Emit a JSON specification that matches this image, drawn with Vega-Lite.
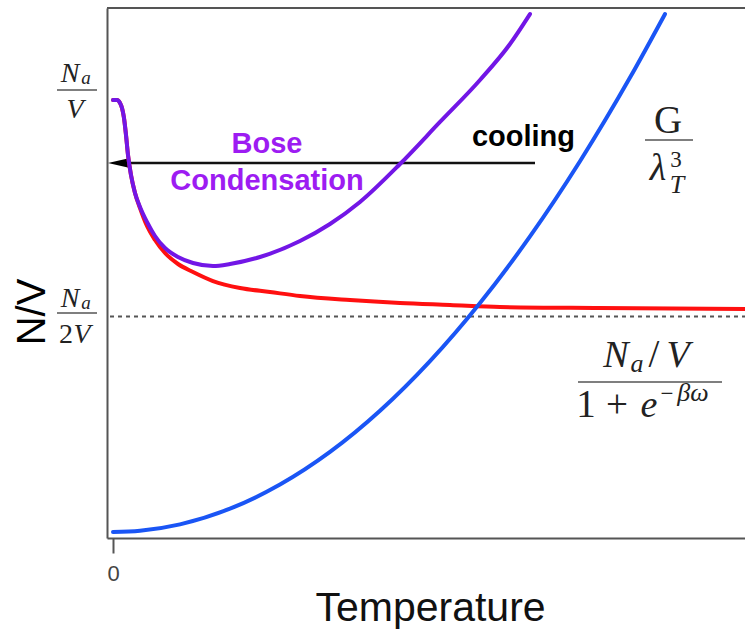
{
  "$schema": "https://vega.github.io/schema/vega-lite/v6.json",
  "width": 638,
  "height": 530,
  "autosize": {"type": "none"},
  "padding": {"left": 107, "top": 8, "right": 0, "bottom": 95},
  "background": "white",
  "config": {"view": {"stroke": null}, "axis": {"labelFontSize": 22}},
  "datasets": {
    "frame": [{"T": -0.06, "y": 1.1964}, {"T": 6.32, "y": 1.1964}],
    "half": [{"T": -0.03, "y": 0.5}, {"T": 6.32, "y": 0.5}],
    "arrow": [{"T": 0.17, "y": 0.8465}, {"T": 4.22, "y": 0.8465}],
    "arrowhead": [{"T": 0.06, "y": 0.8465}],
    "red": [
      {"T": 0.0, "y": 0.9887}, {"T": 0.04, "y": 0.9887}, {"T": 0.07, "y": 0.9819}, {"T": 0.09, "y": 0.9707},
      {"T": 0.11, "y": 0.9481}, {"T": 0.13, "y": 0.9097}, {"T": 0.15, "y": 0.8646}, {"T": 0.18, "y": 0.8194},
      {"T": 0.22, "y": 0.7788}, {"T": 0.27, "y": 0.7449}, {"T": 0.34, "y": 0.7043}, {"T": 0.42, "y": 0.6727},
      {"T": 0.52, "y": 0.6433}, {"T": 0.65, "y": 0.6185}, {"T": 0.8, "y": 0.6005}, {"T": 1.0, "y": 0.5801},
      {"T": 1.27, "y": 0.5643}, {"T": 1.57, "y": 0.5553}, {"T": 1.87, "y": 0.5463}, {"T": 2.37, "y": 0.5372},
      {"T": 2.87, "y": 0.5305}, {"T": 3.37, "y": 0.526}, {"T": 3.87, "y": 0.5214}, {"T": 4.87, "y": 0.5192},
      {"T": 6.32, "y": 0.5169}
    ],
    "purple": [
      {"T": 0.0, "y": 0.9887}, {"T": 0.04, "y": 0.9887}, {"T": 0.07, "y": 0.9819}, {"T": 0.09, "y": 0.9707},
      {"T": 0.11, "y": 0.9481}, {"T": 0.13, "y": 0.9097}, {"T": 0.15, "y": 0.8646}, {"T": 0.18, "y": 0.8194},
      {"T": 0.22, "y": 0.7788}, {"T": 0.27, "y": 0.7472}, {"T": 0.34, "y": 0.7133}, {"T": 0.42, "y": 0.6817},
      {"T": 0.52, "y": 0.6546}, {"T": 0.65, "y": 0.6343}, {"T": 0.8, "y": 0.6208}, {"T": 1.0, "y": 0.614},
      {"T": 1.17, "y": 0.6185}, {"T": 1.47, "y": 0.6343}, {"T": 1.87, "y": 0.6704}, {"T": 2.17, "y": 0.7088},
      {"T": 2.47, "y": 0.7585}, {"T": 2.87, "y": 0.8442}, {"T": 3.27, "y": 0.9391}, {"T": 3.67, "y": 1.0339},
      {"T": 3.97, "y": 1.1151}, {"T": 4.17, "y": 1.1828}
    ],
    "blue": [
      {"T": 0.0, "y": 0.0135}, {"T": 0.27, "y": 0.0163}, {"T": 0.67, "y": 0.0308}, {"T": 1.17, "y": 0.0661},
      {"T": 1.67, "y": 0.1206}, {"T": 2.17, "y": 0.1942}, {"T": 2.67, "y": 0.2871}, {"T": 3.17, "y": 0.3992},
      {"T": 3.67, "y": 0.5304}, {"T": 4.17, "y": 0.6808}, {"T": 4.67, "y": 0.8505}, {"T": 5.17, "y": 1.0393},
      {"T": 5.52, "y": 1.1828}
    ],
    "bars": [
      {"T": -0.56, "T2": -0.16, "y": 1.0113},
      {"T": -0.56, "T2": -0.16, "y": 0.5079},
      {"T": 5.32, "T2": 5.8, "y": 0.8984},
      {"T": 4.65, "T2": 6.09, "y": 0.3521}
    ],
    "serifItalicMid": [
      {"label": "N", "T": -0.43, "y": 1.0293},
      {"label": "V", "T": -0.38, "y": 0.9481},
      {"label": "N", "T": -0.43, "y": 0.5214},
      {"label": "V", "T": -0.31, "y": 0.4402}
    ],
    "serifUprightMid": [
      {"label": "2", "T": -0.47, "y": 0.4402}
    ],
    "serifItalicSmall": [
      {"label": "a", "T": -0.27, "y": 1.0248},
      {"label": "a", "T": -0.27, "y": 0.5169}
    ],
    "serifUprightBig": [
      {"label": "G", "T": 5.55, "y": 0.9142},
      {"label": "1", "T": 4.73, "y": 0.2731},
      {"label": "+", "T": 5.04, "y": 0.2731},
      {"label": "/", "T": 5.41, "y": 0.386}
    ],
    "serifItalicBig": [
      {"label": "λ", "T": 5.45, "y": 0.8081},
      {"label": "N", "T": 5.03, "y": 0.386},
      {"label": "V", "T": 5.65, "y": 0.386},
      {"label": "e", "T": 5.36, "y": 0.2731}
    ],
    "serifUprightScript": [
      {"label": "3", "T": 5.63, "y": 0.8375},
      {"label": "−", "T": 5.54, "y": 0.3093}
    ],
    "serifItalicScript": [
      {"label": "T", "T": 5.64, "y": 0.7788},
      {"label": "a", "T": 5.24, "y": 0.3747},
      {"label": "βω", "T": 5.8, "y": 0.3093}
    ],
    "bose": [
      {"label": "Bose", "T": 1.54, "y": 0.8691},
      {"label": "Condensation", "T": 1.54, "y": 0.7856}
    ],
    "cooling": [{"label": "cooling", "T": 4.62, "y": 0.8849}],
    "ytitle": [{"label": "N/V", "T": -0.8, "y": 0.5102}]
  },
  "encoding": {
    "x": {
      "field": "T", "type": "quantitative",
      "scale": {"domain": [-0.06, 6.32], "nice": false, "zero": false},
      "axis": {
        "values": [0], "grid": false, "title": "Temperature",
        "titleFont": "Liberation Sans", "titleFontSize": 41, "titleFontWeight": "normal", "titleColor": "#111",
        "titleX": 323, "titleY": 82, "titleBaseline": "alphabetic", "titleAlign": "center",
        "labelFont": "Liberation Sans", "labelFontSize": 22, "labelColor": "#444", "labelPadding": 10,
        "domainColor": "#555", "domainWidth": 2, "tickColor": "#555", "tickWidth": 2, "tickSize": 15
      }
    },
    "y": {
      "field": "y", "type": "quantitative",
      "scale": {"domain": [0, 1.1964], "nice": false, "zero": false},
      "axis": {"values": [], "grid": false, "title": null, "labels": false, "ticks": false,
               "domainColor": "#555", "domainWidth": 2}
    }
  },
  "layer": [
    {"data": {"name": "frame"}, "mark": {"type": "line", "color": "#555", "strokeWidth": 2}},
    {"data": {"name": "half"}, "mark": {"type": "line", "color": "#555", "strokeWidth": 2, "strokeDash": [4, 4]}},
    {"data": {"name": "arrow"}, "mark": {"type": "line", "color": "#111", "strokeWidth": 2.5}},
    {"data": {"name": "arrowhead"}, "mark": {"type": "point", "shape": "M -1 0 L 1 -0.45 L 1 0.45 Z", "size": 484, "filled": true, "color": "#000", "opacity": 1}},
    {"data": {"name": "red"}, "mark": {"type": "line", "color": "#ff1010", "strokeWidth": 4, "interpolate": "monotone", "strokeCap": "round"}},
    {"data": {"name": "purple"}, "mark": {"type": "line", "color": "#7216e6", "strokeWidth": 4, "interpolate": "monotone", "strokeCap": "round"}},
    {"data": {"name": "blue"}, "mark": {"type": "line", "color": "#1a55f5", "strokeWidth": 4, "interpolate": "monotone", "strokeCap": "round"}},
    {"data": {"name": "bars"}, "mark": {"type": "rule", "color": "#555", "strokeWidth": 1.5}, "encoding": {"x2": {"field": "T2"}}},
    {"data": {"name": "serifItalicMid"}, "mark": {"type": "text", "font": "Liberation Serif", "fontStyle": "italic", "fontSize": 28, "align": "center", "baseline": "alphabetic", "color": "#222"}, "encoding": {"text": {"field": "label"}}},
    {"data": {"name": "serifUprightMid"}, "mark": {"type": "text", "font": "Liberation Serif", "fontSize": 28, "align": "center", "baseline": "alphabetic", "color": "#222"}, "encoding": {"text": {"field": "label"}}},
    {"data": {"name": "serifItalicSmall"}, "mark": {"type": "text", "font": "Liberation Serif", "fontStyle": "italic", "fontSize": 19, "align": "center", "baseline": "alphabetic", "color": "#222"}, "encoding": {"text": {"field": "label"}}},
    {"data": {"name": "serifUprightBig"}, "mark": {"type": "text", "font": "Liberation Serif", "fontSize": 39, "align": "center", "baseline": "alphabetic", "color": "#222"}, "encoding": {"text": {"field": "label"}}},
    {"data": {"name": "serifItalicBig"}, "mark": {"type": "text", "font": "Liberation Serif", "fontStyle": "italic", "fontSize": 38, "align": "center", "baseline": "alphabetic", "color": "#222"}, "encoding": {"text": {"field": "label"}}},
    {"data": {"name": "serifUprightScript"}, "mark": {"type": "text", "font": "Liberation Serif", "fontSize": 23, "align": "center", "baseline": "alphabetic", "color": "#222"}, "encoding": {"text": {"field": "label"}}},
    {"data": {"name": "serifItalicScript"}, "mark": {"type": "text", "font": "Liberation Serif", "fontStyle": "italic", "fontSize": 26, "align": "center", "baseline": "alphabetic", "color": "#222"}, "encoding": {"text": {"field": "label"}}},
    {"data": {"name": "bose"}, "mark": {"type": "text", "font": "Liberation Sans", "fontWeight": "bold", "fontSize": 29, "align": "center", "baseline": "alphabetic", "color": "#9d1cf2"}, "encoding": {"text": {"field": "label"}}},
    {"data": {"name": "cooling"}, "mark": {"type": "text", "font": "Liberation Sans", "fontWeight": "bold", "fontSize": 29, "align": "right", "baseline": "alphabetic", "color": "#000"}, "encoding": {"text": {"field": "label"}}},
    {"data": {"name": "ytitle"}, "mark": {"type": "text", "font": "Liberation Sans", "fontSize": 40, "angle": 270, "align": "center", "baseline": "middle", "color": "#000"}, "encoding": {"text": {"field": "label"}}}
  ]
}
